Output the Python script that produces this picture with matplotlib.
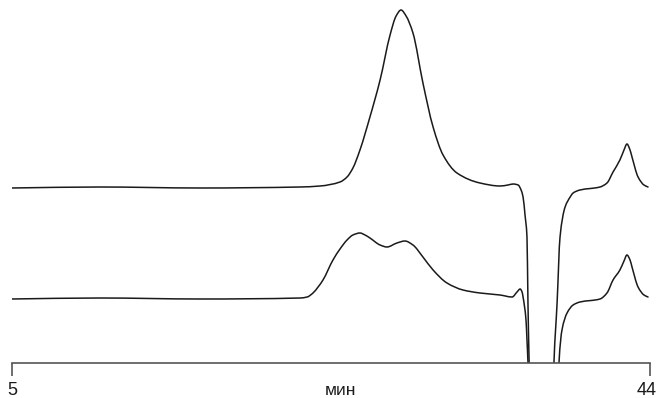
import matplotlib
matplotlib.use("Agg")
import matplotlib.pyplot as plt
import numpy as np
from matplotlib.path import Path
from matplotlib.patches import PathPatch
from matplotlib.transforms import offset_copy

# Time axis (minutes) and signal heights (arbitrary units)
t_top = [5.00, 10.38, 16.49, 22.61, 23.83, 25.05, 25.48, 25.84, 26.27, 26.88,
         27.50, 28.11, 28.48, 28.78, 29.09, 29.51, 30.12, 30.74, 31.35, 32.20,
         33.61, 34.83, 35.32, 35.63, 35.94, 36.12, 36.24, 36.36, 36.48, 36.54,
         36.61, 36.67, 38.07, 38.13, 38.32, 38.50, 38.81, 39.12, 39.30, 39.72,
         40.94, 41.37, 41.74, 42.16, 42.41, 42.59, 42.78, 42.90, 43.27, 43.63,
         43.88]
y_top = [175, 176, 175, 176, 177, 181, 186, 195, 213, 246,
         283, 328, 347, 353, 347, 330, 280, 236, 208, 190,
         180, 177, 178, 179, 178, 173, 166, 148, 126, 60,
         1, -37, -37, 1, 60, 126, 156, 166, 170, 173,
         176, 180, 191, 203, 213, 219, 213, 206, 186, 178,
         176]

t_bot = [5.00, 10.38, 16.49, 22.61, 23.04, 23.40, 23.71, 24.01, 24.62, 25.05,
         25.48, 25.84, 26.27, 26.58, 26.88, 27.50, 27.92, 28.53, 29.02, 29.51,
         30.12, 30.74, 31.59, 32.57, 33.61, 34.83, 35.57, 35.87, 36.06, 36.18,
         36.24, 36.42, 36.48, 36.54, 36.61, 38.38, 38.44, 38.62, 38.93, 39.30,
         39.72, 40.94, 41.37, 41.74, 42.16, 42.41, 42.59, 42.78, 42.90, 43.27,
         43.63, 43.88]
y_bot = [64, 65, 64, 65, 66, 70, 76, 83, 103, 114,
         123, 128, 130, 128, 125, 118, 116, 120, 122, 118,
         106, 93, 80, 73, 70, 68, 66, 71, 74, 71,
         66, 43, 23, 1, -37, -37, 1, 33, 50, 58,
         61, 64, 70, 83, 93, 102, 108, 103, 96, 76,
         68, 66]

x_ticks = [5, 44]
x_tick_labels = ["5", "44"]
x_label = "мин"


def smooth_path(x, y):
    """Monotone cubic (Fritsch-Carlson) curve through the points, as Bezier path."""
    x = np.asarray(x, float)
    y = np.asarray(y, float)
    h = np.diff(x)
    d = np.diff(y) / h
    n = len(x)
    m = np.zeros(n)
    m[0], m[-1] = d[0], d[-1]
    for i in range(1, n - 1):
        if d[i - 1] * d[i] <= 0:
            m[i] = 0.0
        else:
            w1 = 2 * h[i] + h[i - 1]
            w2 = h[i] + 2 * h[i - 1]
            m[i] = (w1 + w2) / (w1 / d[i - 1] + w2 / d[i])
    verts = [(x[0], y[0])]
    codes = [Path.MOVETO]
    for i in range(n - 1):
        verts += [(x[i] + h[i] / 3, y[i] + m[i] * h[i] / 3),
                  (x[i + 1] - h[i] / 3, y[i + 1] - m[i + 1] * h[i] / 3),
                  (x[i + 1], y[i + 1])]
        codes += [Path.CURVE4] * 3
    return Path(verts, codes)


fig = plt.figure(figsize=(6.59, 3.98), dpi=100)
ax = fig.add_axes([12 / 659, 35 / 398, 638 / 659, 363 / 398])

for tx, ty in [(t_top, y_top), (t_bot, y_bot)]:
    ax.add_patch(PathPatch(smooth_path(tx, ty), fill=False, edgecolor="#1a1a1a",
                           lw=1.1, joinstyle="round", capstyle="round"))

ax.set_xlim(5, 44)
ax.set_ylim(0, 363)

for s in ["top", "right", "left"]:
    ax.spines[s].set_visible(False)
ax.spines["bottom"].set_color("#555555")
ax.spines["bottom"].set_linewidth(1.2)

ax.set_yticks([])
ax.set_xticks(x_ticks)
ax.set_xticklabels([])
ax.tick_params(axis="x", direction="out", length=9, width=1.2, color="#555555")

tr = ax.get_xaxis_transform()
base_y = -(35 - (398 - 395)) / 363.0  # baseline at pixel row 395
font = dict(family=["Liberation Sans", "DejaVu Sans"], color="#1a1a1a", va="baseline")
ax.text(x_ticks[0], base_y, x_tick_labels[0], transform=tr, ha="center",
        fontsize=13, **font)
ax.text(x_ticks[1], base_y, x_tick_labels[1],
        transform=offset_copy(tr, fig=fig, x=7, y=0, units="dots"), ha="right",
        fontsize=13, **font)

ax.text(25.05, base_y, x_label, transform=tr, ha="center", fontsize=12.5, **font)

fig.savefig("out.png", dpi=100)
